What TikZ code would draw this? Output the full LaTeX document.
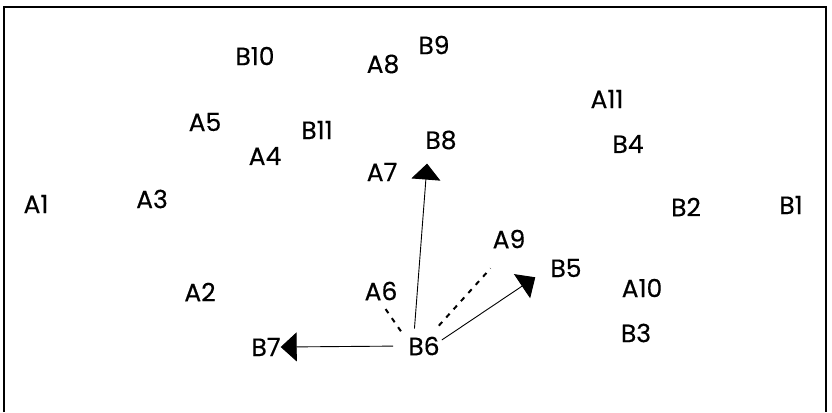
\documentclass[tikz,border=0pt]{standalone}
\usepackage{fontspec}
\setmainfont{Poppins}[FakeBold=0.4]
\usetikzlibrary{arrows.meta}

\begin{document}
\begin{tikzpicture}[x=1pt,y=-1pt,
  every node/.style={font=\fontsize{25}{30}\selectfont,inner sep=2pt},
  arr/.style={line width=0.9pt,-{Triangle[length=16pt,width=29pt]}},
  dotline/.style={line width=2pt,dash pattern=on 5pt off 6pt}]
  \useasboundingbox (0,0) rectangle (832,412);
  \draw[line width=1.2pt] (4,412) -- (4,7) -- (826,7) -- (826,412);
  % labels
  \node (b10) at (255,56) {B10};
  \node (a8) at (383,64) {A8};
  \node (b9) at (434,45) {B9};
  \node (a11) at (607,99) {A11};
  \node (a5) at (205,122) {A5};
  \node (b11) at (317,130) {B11};
  \node (a4) at (265,156) {A4};
  \node (b8) at (441,140) {B8};
  \node (b4) at (628,144) {B4};
  \node (a7) at (382,172) {A7};
  \node (a1) at (36,204) {A1};
  \node (a3) at (152,199) {A3};
  \node (b2) at (686,207) {B2};
  \node (b1) at (791,205) {B1};
  \node (a9) at (509,239) {A9};
  \node (b5) at (566,268) {B5};
  \node (a2) at (200,292) {A2};
  \node (a6) at (381,291) {A6};
  \node (a10) at (642,288) {A10};
  \node (b3) at (636,333) {B3};
  \node (b7) at (266,347) {B7};
  \node (b6) at (424,346) {B6};
  % moves from B6
  \draw[arr,shorten <=6pt,shorten >=12pt] ([xshift=-10pt]b6.north) -- ([xshift=-13pt]b8.south);
  \draw[arr,shorten <=13pt,shorten >=-2pt] (b6.west) -- (b7.east);
  \draw[arr] ([yshift=6pt]b6.east) -- ([xshift=-13pt,yshift=2pt]b5.south west);
  \draw[dotline,shorten <=12pt] ([xshift=-11pt]b6.north east) -- ([yshift=-18pt]a9.south west);
  \draw[dotline,shorten <=4pt,shorten >=8pt] ([xshift=-3pt]b6.north west) -- (a6.south);
\end{tikzpicture}
\end{document}
